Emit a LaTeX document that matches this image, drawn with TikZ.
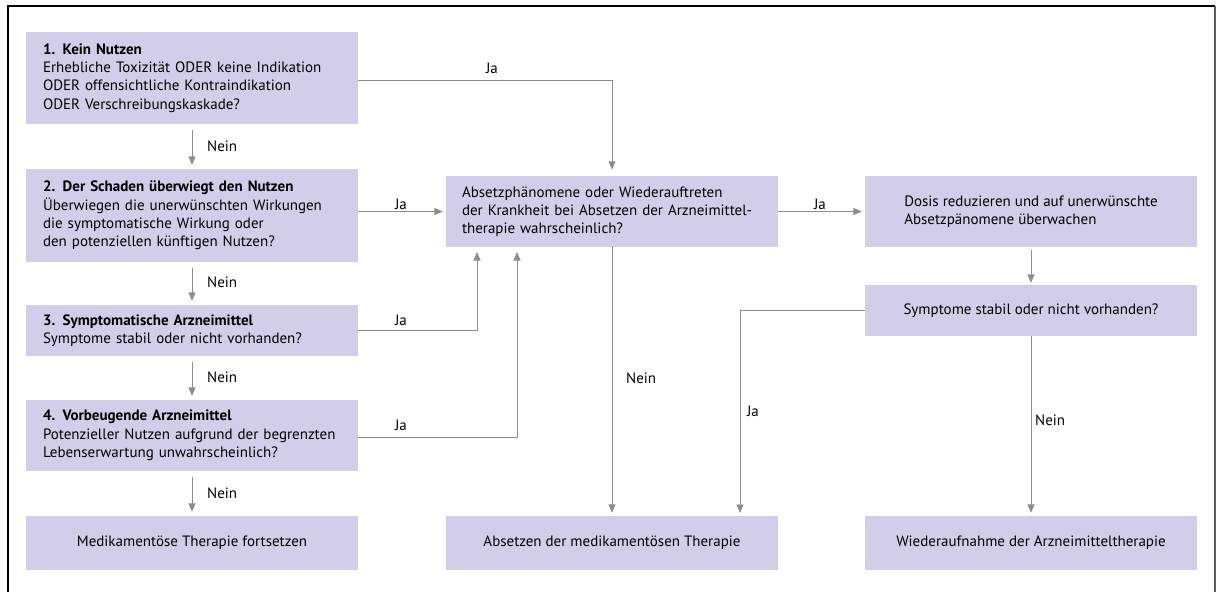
\documentclass[tikz,border=0pt]{standalone}
\usepackage{fontspec}
\setmainfont{PT Sans}
\usetikzlibrary{arrows.meta}
\definecolor{boxfill}{RGB}{210,206,233}
\definecolor{linegray}{RGB}{140,140,140}
\definecolor{framegray}{RGB}{90,90,90}
\tikzset{
  box/.style={draw=none, fill=boxfill, rectangle, minimum width=332pt, inner ysep=0pt,
    font=\fontsize{15}{18.3}\selectfont},
  lbox/.style={box, text width=298pt, inner xsep=17pt, align=left},
  cbox/.style={box, inner xsep=0pt, align=left},
  conn/.style={draw=linegray, line width=0.9pt},
  arr/.style={conn, -{Triangle[length=8.5pt,width=7pt]}, shorten >=4pt},
  lab/.style={font=\fontsize{15}{16}\selectfont, inner sep=0pt},
}
\begin{document}
\begin{tikzpicture}[x=1pt,y=-1pt]
\useasboundingbox (0,0) rectangle (1218,592);
% frame (open at the bottom)
\draw[black, line width=1.1pt] (8,592) -- (8,6) -- (1215,6);
\draw[framegray, line width=1.4pt] (1215,6) -- (1215,592);

% left column
\node[lbox, minimum height=92pt] (b1) at (192,78) {\textbf{1. Kein Nutzen}\\Erhebliche Toxizität ODER keine Indikation\\ODER offensichtliche Kontraindikation\\ODER Verschreibungskaskade?};
\node[lbox, minimum height=93pt] (b2) at (192,215.5) {\textbf{2. Der Schaden überwiegt den Nutzen}\\Überwiegen die unerwünschten Wirkungen\\die symptomatische Wirkung oder\\den potenziellen künftigen Nutzen?};
\node[lbox, minimum height=51pt] (b3) at (192,330.5) {\textbf{3. Symptomatische Arzneimittel}\\Symptome stabil oder nicht vorhanden?};
\node[lbox, minimum height=71pt] (b4) at (192,435.5) {\textbf{4. Vorbeugende Arzneimittel}\\Potenzieller Nutzen aufgrund der begrenzten\\Lebenserwartung unwahrscheinlich?};
\node[cbox, minimum height=54pt] (b5) at (192,543) {Medikamentöse Therapie fortsetzen};

% middle column
\node[box, text width=300pt, inner xsep=16pt, align=left, minimum height=71pt] (mid) at (612,211.5) {Absetzphänomene oder Wiederauftreten\\der Krankheit bei Absetzen der Arzneimittel-\\therapie wahrscheinlich?};
\node[cbox, minimum height=54pt] (abs) at (612,543) {Absetzen der medikamentösen Therapie};

% right column
\node[cbox, minimum height=71pt] (dos) at (1031,211.5) {Dosis reduzieren und auf unerwünschte\\Absetzpänomene überwachen};
\node[cbox, minimum height=51pt] (sym) at (1031,310.5) {Symptome stabil oder nicht vorhanden?};
\node[cbox, minimum height=54pt] (wie) at (1031,543) {Wiederaufnahme der Arzneimitteltherapie};

% helper coordinates
\coordinate (c3) at (477,247);
\coordinate (c4) at (517,247);
\coordinate (cj) at (740,516);

% connectors
\draw[arr, shorten <=6pt] (b1.south) -- (b2.north);
\draw[arr, shorten <=6pt] (b2.south) -- (b3.north);
\draw[arr, shorten <=6pt] (b3.south) -- (b4.north);
\draw[arr, shorten <=6pt] (b4.south) -- (b5.north);

\draw[arr, shorten >=6pt] (b1.east |- 0,80) -| (mid.north);
\draw[arr, shorten >=3pt] (b2.east |- mid.west) -- (mid.west);
\draw[arr, shorten >=5pt] (b3.east) -| (c3);
\draw[arr, shorten >=5pt] (b4.east |- 0,437) -| (c4);
\draw[arr, shorten >=3pt] (mid.south) -- (abs.north);
\draw[arr, shorten >=3pt] (mid.east) -- (dos.west);
\draw[arr, shorten <=3pt, shorten >=2pt] (dos.south) -- (sym.north);
\draw[arr, shorten >=3pt] (sym.west) -| (cj);
\draw[arr, shorten >=3pt] (sym.south) -- (wie.north);

% labels
\node[lab, anchor=west] (n1) at (207,146) {Nein};
\node[lab, anchor=west] (n2) at (207,282) {Nein};
\node[lab, anchor=west] (n3) at (207,377) {Nein};
\node[lab, anchor=west] (n4) at (207,493) {Nein};
\node[lab] (j1) at (492,68) {Ja};
\node[lab] (j2) at (401,204) {Ja};
\node[lab] (j3) at (401,320) {Ja};
\node[lab] (j4) at (401,425) {Ja};
\node[lab] (j5) at (820,204) {Ja};
\node[lab, anchor=west] (n5) at (626,378) {Nein};
\node[lab] (j6) at (753,411) {Ja};
\node[lab, anchor=west] (n6) at (1035,420) {Nein};
\end{tikzpicture}
\end{document}
